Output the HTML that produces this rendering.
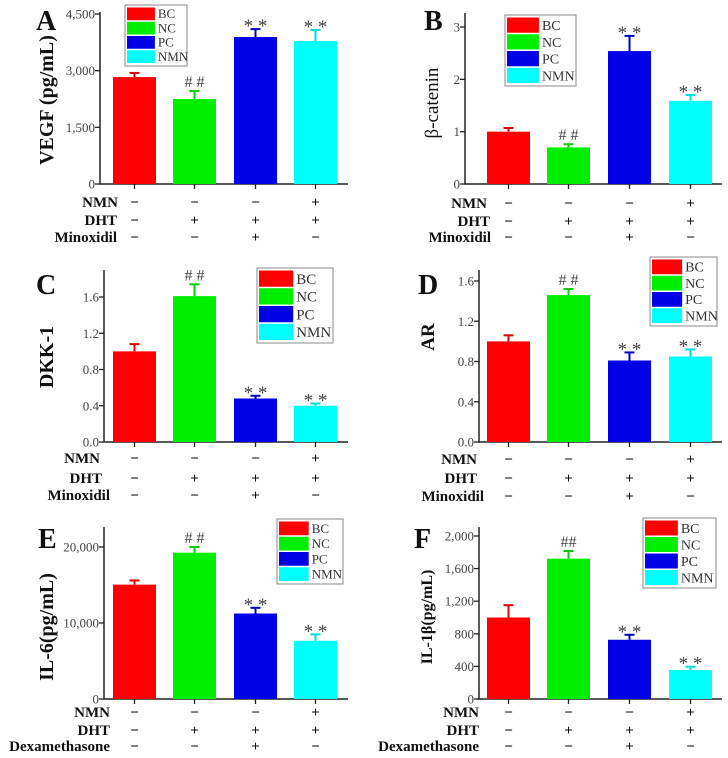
<!DOCTYPE html>
<html><head><meta charset="utf-8"><style>
html,body{margin:0;padding:0;background:#fff;}
svg{display:block;}
svg text{font-family:"Liberation Serif",serif;}
</style></head><body>
<svg id="fig" width="728" height="758" viewBox="0 0 728 758" xmlns="http://www.w3.org/2000/svg"></svg>
<script>
// ---- data ----
const groups = ["BC","NC","PC","NMN"];
const vegfValues = [2830, 2250, 3890, 3785];
const vegfErrors = [110, 210, 210, 290];
const bcatValues = [1.0, 0.70, 2.54, 1.59];
const bcatErrors = [0.07, 0.06, 0.29, 0.11];
const dkkValues = [1.0, 1.61, 0.48, 0.40];
const dkkErrors = [0.08, 0.13, 0.03, 0.025];
const arValues = [1.0, 1.46, 0.81, 0.85];
const arErrors = [0.06, 0.06, 0.08, 0.07];
const il6Values = [15050, 19250, 11250, 7660];
const il6Errors = [550, 750, 750, 840];
const il1bValues = [1000, 1722, 727, 355];
const il1bErrors = [151, 94, 61, 41];
const vegfTicks = [0, 1500, 3000, 4500];
const vegfTickLabels = ["0","1,500","3,000","4,500"];
const bcatTicks = [0, 1, 2, 3];
const bcatTickLabels = ["0","1","2","3"];
const dkkTicks = [0, 0.4, 0.8, 1.2, 1.6];
const dkkTickLabels = ["0.0","0.4","0.8","1.2","1.6"];
const arTicks = [0, 0.4, 0.8, 1.2, 1.6];
const arTickLabels = ["0.0","0.4","0.8","1.2","1.6"];
const il6Ticks = [0, 10000, 20000];
const il6TickLabels = ["0","10,000","20,000"];
const il1bTicks = [0, 400, 800, 1200, 1600, 2000];
const il1bTickLabels = ["0","400","800","1,200","1,600","2,000"];
const vegfMarks = ["", "# #", "* *", "* *"];
const bcatMarks = ["", "# #", "* *", "* *"];
const dkkMarks = ["", "# #", "* *", "* *"];
const arMarks = ["", "# #", "* *", "* *"];
const il6Marks = ["", "# #", "* *", "* *"];
const il1bMarks = ["", "##", "* *", "* *"];
const rowNamesA = ["NMN","DHT","Minoxidil"];
const rowNamesE = ["NMN","DHT","Dexamethasone"];
const signs = [["−","−","−","+"],["−","+","+","+"],["−","−","+","−"]];
const signsE = [["−","−","−","+"],["−","+","+","+"],["−","−","+","−"]];

const colors = ["#ff0000","#00ee00","#0000e6","#00ffff"];
const capColors = ["#e00000","#00cc00","#0000c0","#00dddd"];
const NS = "http://www.w3.org/2000/svg";
const svg = document.getElementById("fig");
function mk(tag, attrs, parent, text){
  const e = document.createElementNS(NS, tag);
  for (const k in attrs) e.setAttribute(k, attrs[k]);
  if (text !== undefined) e.textContent = text;
  (parent||svg).appendChild(e);
  return e;
}
const LEFT_BARS = [113,173,234,294], RIGHT_BARS = [487,547,608,669];
const SERIF = "Liberation Serif, serif";

function panel(p){
  const g = mk("g",{});
  
  
  const ys = v => p.y0 - (v / p.max) * (p.y0 - p.yMaxPx);
  const ax = mk("path",{d:`M${p.ax} ${p.axTop} V${p.y0} H${p.axEnd}`, stroke:"#222", "stroke-width":1.5, fill:"none"}, g);
  
  
  p.ticks.forEach((t,i)=>{
    const y = ys(t);
    mk("line",{x1:p.ax-5,x2:p.ax,y1:y,y2:y,stroke:"#222","stroke-width":1.3},g);
    const tl = mk("text",{x:p.ax-5,y:y+4.5,"text-anchor":"end","font-size":13,fill:"#444","font-family":SERIF},g,p.tickLabels[i]);
    
    
  });
  const bx = p.bars;
  p.values.forEach((v,i)=>{
    const x = bx[i], w = 43, cx = x + w/2;
    const top = ys(v), etop = ys(v + p.errors[i]);
    mk("line",{x1:cx,x2:cx,y1:top,y2:etop,stroke:capColors[i],"stroke-width":2},g);
    mk("line",{x1:cx-5,x2:cx+5,y1:etop,y2:etop,stroke:capColors[i],"stroke-width":2},g);
    const r = mk("rect",{x:x,y:top,width:w,height:p.y0-top,fill:colors[i]},g);
    
    
    mk("line",{x1:cx,x2:cx,y1:p.y0,y2:p.y0+5,stroke:"#222","stroke-width":1.3},g);
    const m = p.marks[i];
    if (m){
      const isStar = m.indexOf("*")>=0;
      const t = mk("text",{x:cx,y: isStar ? etop+3 : etop-4,"text-anchor":"middle","font-size": isStar?19:16,fill:"#444","font-family":"Liberation Sans, sans-serif"},g,m);
      
      
    }
  });
  p.rowNames.forEach((n,r)=>{
    const y = p.rows[r];
    const t = mk("text",{x:p.labelRight[r],y:y+5,"text-anchor":"end","font-size":15,"font-weight":"bold",fill:"#111","font-family":SERIF},g,n);
    
    
    p.signs[r].forEach((s,i)=>{
      const cx = bx[i]+21.5;
      mk("text",{x:cx,y:y+5,"text-anchor":"middle","font-size":15,"font-weight":"bold",fill:"#111","font-family":"Liberation Sans, sans-serif"},g,s);
    });
  });
  const L = p.legend;
  const lg = mk("g",{},g);
  
  
  mk("rect",{x:L.x,y:L.y,width:L.w,height:L.h,fill:"#fff",stroke:"#888","stroke-width":1},lg);
  const rh = (L.h-4)/4;
  groups.forEach((n,i)=>{
    const sw = mk("rect",{x:L.x+2,y:L.y+2+i*rh+0.5,width:L.w*0.45,height:rh-1.5,fill:colors[i]},lg);
    
    
    mk("text",{x:L.x+L.w*0.45+5,y:L.y+2+i*rh+rh*0.78,"font-size":L.fs,fill:"#333","font-family":SERIF},lg,n);
  });
  const lt = mk("text",{x:p.letter[0],y:p.letter[1],"font-size":28,"font-weight":"bold",fill:"#111","font-family":SERIF},g,p.id);
  
  
  const yt = mk("text",{x:p.title[0],y:p.title[1],"font-size":p.title[2],"font-weight":p.title[3],fill:"#111","text-anchor":"middle","font-family":SERIF,transform:`rotate(-90 ${p.title[0]} ${p.title[1]})`},g,p.titleText);
  
  
}

panel({id:"A",values:vegfValues,errors:vegfErrors,marks:vegfMarks,ticks:vegfTicks,tickLabels:vegfTickLabels,max:4500,
  ax:100,axTop:12,y0:184,yMaxPx:14,axEnd:348,bars:LEFT_BARS,rows:[202,220,237],labelRight:[118,117,117],rowNames:rowNamesA,signs:signs,
  legend:{x:125,y:5,w:62,h:61,fs:13},letter:[36,30],title:[53,100,20,"bold"],titleText:"VEGF (pg/mL)"});
panel({id:"B",values:bcatValues,errors:bcatErrors,marks:bcatMarks,ticks:bcatTicks,tickLabels:bcatTickLabels,max:3,
  ax:465,axTop:13,y0:184,yMaxPx:27,axEnd:722,bars:RIGHT_BARS,rows:[203,221,237],labelRight:[487,490,491],rowNames:rowNamesA,signs:signs,
  legend:{x:505,y:15,w:71,h:71,fs:14},letter:[424,30],title:[438,103,19,"normal"],titleText:"β-catenin"});
panel({id:"C",values:dkkValues,errors:dkkErrors,marks:dkkMarks,ticks:dkkTicks,tickLabels:dkkTickLabels,max:1.6,
  ax:104,axTop:270,y0:442,yMaxPx:297,axEnd:348,bars:LEFT_BARS,rows:[458,478,495],labelRight:[100,102,110],rowNames:rowNamesA,signs:signs,
  legend:{x:257,y:268,w:76,h:75,fs:15},letter:[36,294],title:[53,357,20,"bold"],titleText:"DKK-1"});
panel({id:"D",values:arValues,errors:arErrors,marks:arMarks,ticks:arTicks,tickLabels:arTickLabels,max:1.6,
  ax:479,axTop:270,y0:442,yMaxPx:281,axEnd:722,bars:RIGHT_BARS,rows:[459,478,496],labelRight:[477,477,484],rowNames:rowNamesA,signs:signs,
  legend:{x:650,y:257,w:67,h:69,fs:14},letter:[418,294],title:[434,337,19,"bold"],titleText:"AR"});
panel({id:"E",values:il6Values,errors:il6Errors,marks:il6Marks,ticks:il6Ticks,tickLabels:il6TickLabels,max:20000,
  ax:104,axTop:527,y0:699,yMaxPx:547,axEnd:348,bars:LEFT_BARS,rows:[712,730,746],labelRight:[110,110,110],rowNames:rowNamesE,signs:signsE,
  legend:{x:277,y:519,w:66,h:65,fs:13},letter:[38,548],title:[53,627,20,"bold"],titleText:"IL-6(pg/mL)"});
panel({id:"F",values:il1bValues,errors:il1bErrors,marks:il1bMarks,ticks:il1bTicks,tickLabels:il1bTickLabels,max:2000,
  ax:479,axTop:527,y0:699,yMaxPx:536,axEnd:722,bars:RIGHT_BARS,rows:[712,730,746],labelRight:[479,479,479],rowNames:rowNamesE,signs:signsE,
  legend:{x:643,y:518,w:73,h:70,fs:14},letter:[414,548],title:[432,617,16,"bold"],titleText:"IL-1β(pg/mL)"});
</script>
</body></html>
